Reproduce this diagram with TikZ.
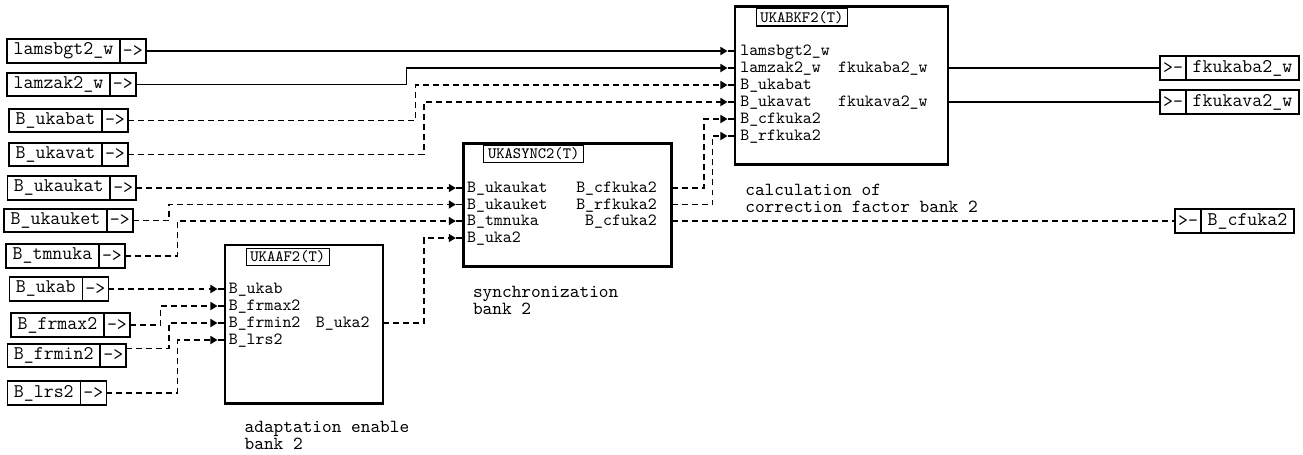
\documentclass[tikz,border=0pt]{standalone}
\usetikzlibrary{arrows.meta, positioning, calc}

\tikzset{
  sig/.style={line width=0.85pt},
  dsig/.style={sig, dash pattern=on 3.4pt off 2.3pt},
  tosig/.style={-{Triangle[length=4pt,width=4.6pt]}},
  inbox/.style={draw, line width=0.9pt, outer sep=0pt, anchor=west,
    font=\ttfamily\fontsize{11}{12}\selectfont, minimum height=13.4pt,
    inner xsep=3.8pt, inner ysep=0pt},
  tipbox/.style={inbox, minimum width=14.8pt, inner xsep=0pt},
  block/.style={draw, line width=1.5pt, outer sep=0pt, inner sep=0pt,
    anchor=north west},
  blocktitle/.style={draw, line width=0.6pt, anchor=north west,
    font=\ttfamily\fontsize{9}{10}\selectfont, minimum height=9.7pt,
    inner xsep=2.4pt, inner ysep=0pt},
  portlbl/.style={inner sep=0pt, font=\ttfamily\fontsize{9.7}{10}\selectfont},
  caption/.style={inner sep=0pt, anchor=north west, align=left,
    font=\ttfamily\fontsize{10.5}{9.6}\selectfont}
}

\begin{document}
\begin{tikzpicture}[x=0.02cm, y=-0.02cm]
  \useasboundingbox (0,0) rectangle (1303,454);

  % input boxes
  \foreach \nm/\lbl/\x/\y in {Lamsbgt/lamsbgt2\_w/7/51, Lamzak/lamzak2\_w/7/84.5,
      Ukabat/B\_ukabat/9/120.5, Ukavat/B\_ukavat/9/154.5,
      Ukaukat/B\_ukaukat/7.3/188, Ukauket/B\_ukauket/4/220.5,
      Tmnuka/B\_tmnuka/6/256, Ukab/B\_ukab/9.3/289,
      Frmax/B\_frmax2/11/325, Frmin/B\_frmin2/7.3/355.5, Lrs/B\_lrs2/7.3/393}{
    \node[inbox] (in\nm) at (\x,\y) {\lbl};
    \node[tipbox, right=0pt of in\nm] (ar\nm) {->};
  }

  % output boxes
  \node[tipbox] (arFkukaba) at (1160,68) {>-};
  \node[inbox, right=0pt of arFkukaba] (outFkukaba) {fkukaba2\_w};
  \node[tipbox] (arFkukava) at (1160,102) {>-};
  \node[inbox, right=0pt of arFkukava] (outFkukava) {fkukava2\_w};
  \node[tipbox] (arCfuka) at (1175,221) {>-};
  \node[inbox, right=0pt of arCfuka] (outCfuka) {B\_cfuka2};

  % UKAAF2
  \node[block, minimum width=3.16cm, minimum height=3.166cm] (af) at (225,245) {};
  \node[blocktitle] (afT) at ([shift={(20.7,3)}]af.north west) {UKAAF2(T)};
  \foreach \lbl/\y [count=\i] in {B\_ukab/289, B\_frmax2/306, B\_frmin2/323, B\_lrs2/340}{
    \coordinate (afIn\i) at (af.west |- 0,\y);
    \draw[sig] (afIn\i) -- ++(-7.5,0) coordinate (afTip\i);
    \node[portlbl, anchor=base west] (afP\i) at ([shift={(3.5,4.5)}]afIn\i) {\lbl};
  }
  \coordinate (afOut1) at (af.east |- 0,323);
  \node[portlbl, anchor=base east] (afQ1) at ([shift={(-13,4.5)}]afOut1) {B\_uka2};
  \node[caption] (afC) at (244.3,421) {adaptation enable\\bank 2};

  % UKASYNC2
  \node[block, minimum width=4.168cm, minimum height=2.468cm] (sy) at (463.3,143.3) {};
  \node[blocktitle] (syT) at ([shift={(20,1.7)}]sy.north west) {UKASYNC2(T)};
  \foreach \lbl/\y [count=\i] in {B\_ukaukat/188, B\_ukauket/204.5, B\_tmnuka/221, B\_uka2/238}{
    \coordinate (syIn\i) at (sy.west |- 0,\y);
    \draw[sig] (syIn\i) -- ++(-7.5,0) coordinate (syTip\i);
    \node[portlbl, anchor=base west] (syP\i) at ([shift={(3.5,4.5)}]syIn\i) {\lbl};
  }
  \foreach \lbl/\y [count=\i] in {B\_cfkuka2/188, B\_rfkuka2/204.5, B\_cfuka2/221}{
    \coordinate (syOut\i) at (sy.east |- 0,\y);
    \node[portlbl, anchor=base east] (syQ\i) at ([shift={(-14.5,4.5)}]syOut\i) {\lbl};
  }
  \node[caption] (syC) at (472.7,286) {synchronization\\bank 2};

  % UKABKF2
  \node[block, minimum width=4.26cm, minimum height=3.152cm] (kf) at (735,6.7) {};
  \node[blocktitle] (kfT) at ([shift={(20.7,1.7)}]kf.north west) {UKABKF2(T)};
  \foreach \lbl/\y [count=\i] in {lamsbgt2\_w/51, lamzak2\_w/68, B\_ukabat/85,
      B\_ukavat/102, B\_cfkuka2/119, B\_rfkuka2/136}{
    \coordinate (kfIn\i) at (kf.west |- 0,\y);
    \draw[sig] (kfIn\i) -- ++(-7.5,0) coordinate (kfTip\i);
    \node[portlbl, anchor=base west] (kfP\i) at ([shift={(5,4.5)}]kfIn\i) {\lbl};
  }
  \foreach \lbl/\y [count=\i] in {fkukaba2\_w/68, fkukava2\_w/102}{
    \coordinate (kfOut\i) at (kf.east |- 0,\y);
    \node[portlbl, anchor=base east] (kfQ\i) at ([shift={(-20,4.5)}]kfOut\i) {\lbl};
  }
  \node[caption] (kfC) at (745,184) {calculation of\\correction factor bank 2};

  % connections into UKAAF2
  \draw[dsig, tosig] (arUkab.east) -- (afTip1);
  \draw[dsig, tosig] (arFrmax.east) -- (arFrmax.east -| 160.7,0) |- (afTip2);
  \draw[dsig, tosig] ([yshift=4pt]arFrmin.east) coordinate (frminOut)
    -- (frminOut -| 169,0) |- (afTip3);
  \draw[dsig, tosig] (arLrs.east) -- (arLrs.east -| 177.3,0) |- (afTip4);

  % connections into UKASYNC2
  \draw[dsig, tosig] (arUkaukat.east) -- (syTip1);
  \draw[dsig, tosig] (arUkauket.east) -- (arUkauket.east -| 169,0) |- (syTip2);
  \draw[dsig, tosig] (arTmnuka.east) -- (arTmnuka.east -| 177.3,0) |- (syTip3);
  \draw[dsig, tosig] (afOut1) -- (afOut1 -| 424,0) |- (syTip4);

  % connections into UKABKF2
  \draw[sig, tosig] (arLamsbgt.east) -- (kfTip1);
  \draw[sig, tosig] (arLamzak.east) -- (arLamzak.east -| 406.7,0) |- (kfTip2);
  \draw[dsig, tosig] (arUkabat.east) -- (arUkabat.east -| 415.7,0) |- (kfTip3);
  \draw[dsig, tosig] (arUkavat.east) -- (arUkavat.east -| 424,0) |- (kfTip4);
  \draw[dsig, tosig] (syOut1) -- (syOut1 -| 704,0) |- (kfTip5);
  \draw[dsig, tosig] (syOut2) -- (syOut2 -| 712.7,0) |- (kfTip6);

  % outputs
  \draw[sig] (kfOut1) -- (arFkukaba.west);
  \draw[sig] (kfOut2) -- (arFkukava.west);
  \draw[dsig] (syOut3) -- (arCfuka.west);
\end{tikzpicture}
\end{document}
